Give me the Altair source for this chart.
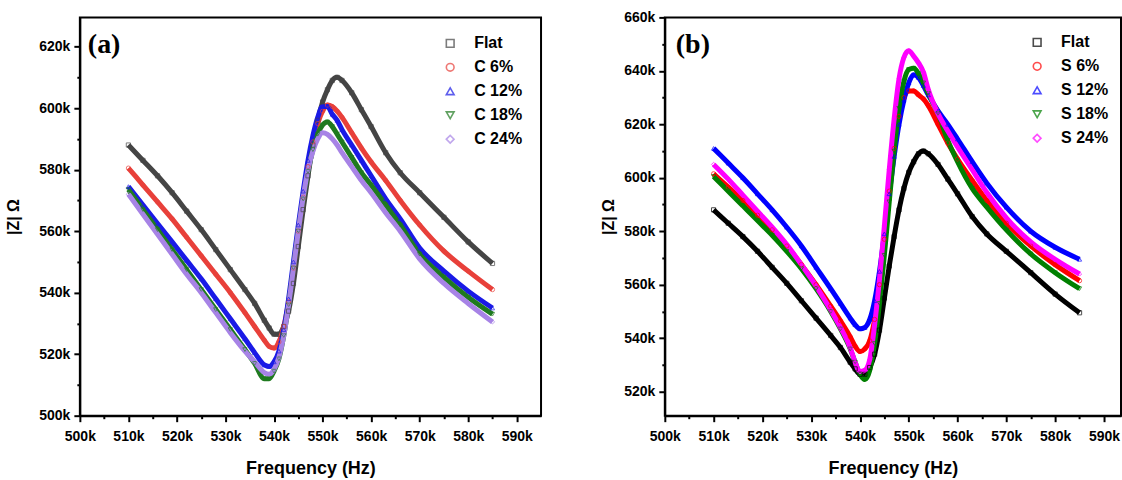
import altair as alt
import pandas as pd

# frequency grid (kHz)
freq_khz = [510, 513, 516, 519, 522, 525, 528, 531, 534, 536,
            538, 539, 540, 541, 542, 543, 544, 545, 546, 547,
            548, 549, 550, 551, 552, 553, 554, 556, 558, 560,
            563, 566, 570, 575, 580, 585]

# |Z| in k-ohm
flat = [588, 583, 578, 572.5, 566.5, 560.5, 554, 547.5, 541, 536.5,
        531, 528.5, 526.5, 526.5, 529, 534, 543, 555, 567, 578,
        588, 596, 602, 606, 609, 610, 609, 605, 599.5, 594,
        585.5, 579, 572.5, 564.5, 556.5, 549.5]

c6 = [580.5, 575, 569.5, 564, 558, 552, 546, 540, 533.5, 529,
      524.5, 522.5, 522, 524, 529, 537, 548, 560, 571, 581,
      589, 595, 599, 601, 600.5, 599, 597, 592, 587, 582.5,
      576.5, 570, 562, 553.5, 547, 541]
c12 = [574.5, 568.5, 562.5, 556.5, 550.5, 544.5, 538, 531.5, 525, 520.5,
       516.5, 516, 517.5, 521, 528, 538, 550, 562, 573, 583,
       591, 597, 600.5, 600.5, 598, 596, 593, 588, 583, 578,
       570.5, 564, 554.5, 547, 540.5, 535]
c18 = [573.5, 567, 560.5, 554, 547.5, 541, 534.5, 528, 521.5, 517,
       512, 512, 514.5, 518.5, 526, 536, 548, 560, 570.5, 579.5,
       586.5, 591.5, 594.5, 595.5, 594, 591.5, 589, 584, 579, 575,
       568.5, 562, 552.5, 545, 538.5, 533]
c24 = [572, 565.5, 559, 552.5, 546, 540, 533.5, 527, 521, 517.5,
       514, 513.5, 515, 519, 526, 536, 548, 560, 571, 580,
       586, 590, 592, 591.5, 590, 588, 585.5, 581, 576.5, 572.5,
       566, 560, 551, 543, 536.5, 530.5]

s6 = [601.5, 596.5, 591.5, 586, 580.5, 574.5, 567.5, 560, 552, 546.5,
      540.5, 537, 535, 536, 539, 547, 560, 577, 595, 611,
      623, 630, 632.5, 632.5, 631, 629.5, 627, 620, 613, 607,
      599, 591.5, 583, 574.5, 567.5, 561.5]
s12 = [611, 605.5, 600, 594, 588, 581.5, 574.5, 566.5, 558.5, 553,
       547.5, 545, 543.5, 544, 547, 554, 565, 579, 594, 608,
       620, 629, 635.5, 638.5, 637.5, 634.5, 631, 625, 620, 614.5,
       606, 598, 589, 580, 574, 569.5]
s18 = [600.5, 595, 589.5, 584, 578.5, 572.5, 566, 558.5, 550, 543.5,
       536, 531, 526.5, 524.5, 528, 538, 553, 571, 591, 610,
       626, 636, 640.5, 641, 639, 635.5, 631.5, 624, 614, 606,
       596, 589, 580.5, 571.5, 564.5, 558.5]
s24 = [605, 599.5, 593.5, 587.5, 581.5, 575, 567.5, 559.5, 550.5, 544,
       536.5, 531, 527.5, 528, 532, 545, 562, 582, 603, 622,
       637, 645, 647.5, 645.5, 643, 639.5, 633, 624, 617.5, 611.5,
       603, 594.5, 585, 576, 569.5, 564]

labels_a = ["Flat", "C 6%", "C 12%", "C 18%", "C 24%"]
labels_b = ["Flat", "S 6%", "S 12%", "S 18%", "S 24%"]
colors_a = ["#454545", "#e8403a", "#1a1ae6", "#1f7a1f", "#a783e6"]
colors_b = ["#000000", "#ff0000", "#0000ff", "#008000", "#ff00ff"]
shapes = ["square", "circle", "triangle-up", "triangle-down", "diamond"]

series_a = [flat, c6, c12, c18, c24]
series_b = [flat, s6, s12, s18, s24]

x_ticks = list(range(500000, 595000, 5000))
y_ticks_a = list(range(500000, 630000, 10000))
y_ticks_b = list(range(520000, 670000, 10000))


def make_df(labels, series):
    rows = []
    for lab, vals in zip(labels, series):
        for f, z in zip(freq_khz, vals):
            rows.append({"freq": f * 1000, "z": z * 1000, "series": lab})
    return pd.DataFrame(rows)


def panel(labels, series, colors, tag, ydomain, yticks, xdomain, width,
          ytitle_x, leg_x, leg_y, tag_x):
    df = make_df(labels, series)
    x = alt.X("freq:Q",
              scale=alt.Scale(domain=xdomain, nice=False, zero=False),
              axis=alt.Axis(values=x_ticks, title="Frequency (Hz)",
                            labelExpr="datum.value % 10000 === 0 ? format(datum.value / 1000, 'd') + 'k' : ''",
                            tickSize={"condition": {"test": "datum.value % 10000 === 0", "value": 6}, "value": 3},
                            labelPadding=8, titlePadding=16, titleFontSize=18,
                            labelFlush=False, labelOverlap=False))
    y = alt.Y("z:Q",
              scale=alt.Scale(domain=ydomain, nice=False, zero=False),
              axis=alt.Axis(values=yticks, title="|Z| \u03a9",
                            labelExpr="datum.value % 20000 === 0 ? format(datum.value / 1000, 'd') + 'k' : ''",
                            tickSize={"condition": {"test": "datum.value % 20000 === 0", "value": 6}, "value": 3},
                            labelPadding=4, titleX=ytitle_x, titleFontSize=16,
                            labelFlush=False, labelOverlap=False))
    leg = alt.Legend(title=None, orient="none", legendX=leg_x, legendY=leg_y,
                     labelFont="Liberation Sans", labelFontWeight="bold",
                     labelFontSize=16, labelColor="black", symbolSize=60,
                     symbolStrokeWidth=1.6, rowPadding=8, labelOffset=16,
                     padding=0)
    color = alt.Color("series:N", scale=alt.Scale(domain=labels, range=colors),
                      sort=labels, legend=leg)
    shape = alt.Shape("series:N", scale=alt.Scale(domain=labels, range=shapes),
                      sort=labels, legend=leg)
    base = alt.Chart(df)
    lines = base.mark_line(strokeWidth=5, interpolate="monotone", clip=True).encode(
        x=x, y=y, color=color)
    pts = base.mark_point(filled=False, size=18, strokeWidth=1.0, opacity=0.7, clip=True).encode(
        x=x, y=y, color=color, shape=shape)
    tag_chart = alt.Chart(pd.DataFrame({"t": [tag]})).mark_text(
        font="Liberation Serif", fontWeight="bold", fontSize=28, align="left",
        baseline="middle", color="black").encode(
        text="t:N", x=alt.value(tag_x), y=alt.value(28))
    return alt.layer(lines, pts, tag_chart).properties(width=width, height=399)


left = panel(labels_a, series_a, colors_a, "(a)", [500000, 629500], y_ticks_a,
             [500000, 595000], 462, -58, 363, 18, 8)
right = panel(labels_b, series_b, colors_b, "(b)", [511000, 660000], y_ticks_b,
              [500000, 593500], 457, -48, 365, 17, 11)

chart = alt.hconcat(left, right, spacing=58).resolve_scale(
    color="independent", shape="independent"
).properties(
    padding={"left": 5, "top": 9, "right": 0, "bottom": 0}
).configure_view(
    stroke="black", strokeWidth=2
).configure_axis(
    domainColor="black", domainWidth=2, tickColor="black", tickWidth=2,
    labelFont="Liberation Sans", labelFontWeight="bold", labelFontSize=14,
    labelColor="black", titleFont="Liberation Sans", titleFontWeight="bold",
    titleColor="black", grid=False
)

chart.save("out.html", embed_options={"renderer": "svg", "actions": False})
